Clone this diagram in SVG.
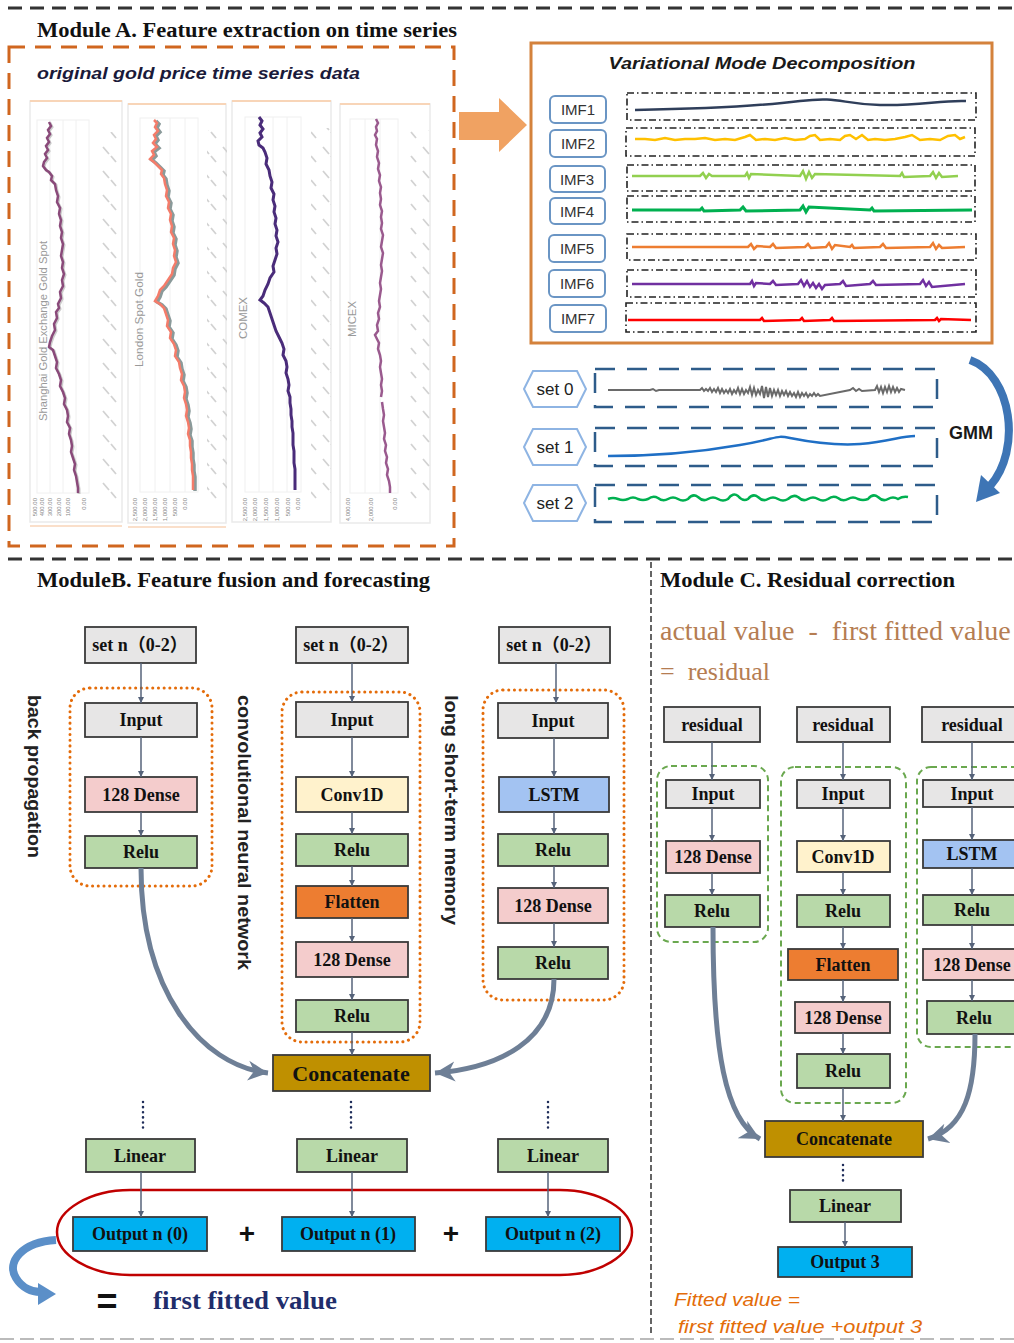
<svg xmlns="http://www.w3.org/2000/svg" width="1014" height="1343" viewBox="0 0 1014 1343">
<style>
.box{stroke:#3a3a3a;stroke-width:1.8}
.gray{fill:#E7E6E6}.pink{fill:#F4CCCC}.green{fill:#B8D9A9}.yellow{fill:#FFF2CC}.orange{fill:#ED7D31}.blue{fill:#A3C3F2}.gold{fill:#BF9000}.cyan{fill:#00B0F0}
.lbl{font-family:"Liberation Serif","Noto Sans CJK SC",serif;font-weight:bold;font-size:18px;text-anchor:middle;fill:#111}
.clbl{font-family:"Liberation Serif","Noto Sans CJK SC",serif;font-weight:bold;font-size:18px;text-anchor:middle;fill:#111}
.title{font-family:"Liberation Serif",serif;font-weight:bold;font-size:20px;fill:#111}
.conn{stroke:#56637A;stroke-width:1.5;fill:none;marker-end:url(#ah)}
.dotv{stroke:#1F2D5A;stroke-width:2.5;stroke-dasharray:0.1 5;stroke-linecap:round;fill:none}
.big{stroke:#6E7F96;stroke-width:5;fill:none}
.odot{fill:none;stroke:#E46C0A;stroke-width:3;stroke-dasharray:0.1 5.6;stroke-linecap:round}
.gdash{fill:none;stroke:#6AA84F;stroke-width:2;stroke-dasharray:6 4}
.imf{fill:#fff;stroke:#6A95C4;stroke-width:2}
.imft{font-family:"Liberation Sans",sans-serif;font-size:15px;fill:#333;text-anchor:middle}
.dd{fill:none;stroke:#222;stroke-width:1.6;stroke-dasharray:7 3 1.5 3}
.sbox{fill:none;stroke:#2E5C8A;stroke-width:2.5;stroke-dasharray:20 12}
.hex{fill:#fff;stroke:#8EB4E3;stroke-width:2}
.sett{font-family:"Liberation Sans",sans-serif;font-size:17px;fill:#222;text-anchor:middle}
.vt{font-family:"Liberation Sans",sans-serif;font-weight:bold;font-size:19px;fill:#222}
.tick{font-family:"Liberation Sans",sans-serif;font-size:6px;fill:#888;text-anchor:end}
.diag{stroke:#D2D2D2;stroke-width:1.8;fill:none}
.panel{fill:#fff;stroke:#EAEAEA;stroke-width:1.5}
.grid{stroke:#F0F0F0;stroke-width:1}
.axl{font-family:"Liberation Sans",sans-serif;font-size:10px;fill:#999}
</style>
<defs>
<marker id="ah" markerUnits="userSpaceOnUse" markerWidth="7" markerHeight="7" refX="6" refY="3.5" orient="auto"><path d="M0,0.5 L6,3.5 L0,6.5 z" fill="#56637A"/></marker>
<marker id="bh" markerUnits="userSpaceOnUse" markerWidth="22" markerHeight="22" refX="20" refY="11" orient="auto"><path d="M0,1 L20,11 L0,21 L6,11 z" fill="#6E7F96"/></marker>
<pattern id="diagp" width="20" height="24" patternUnits="userSpaceOnUse"><path d="M3,3 L9,10 M11,12 L16,18" class="diag"/></pattern>
</defs>

<!-- section separators -->
<g id="separators">
<line x1="8" y1="8" x2="1014" y2="8" stroke="#333" stroke-width="3" stroke-dasharray="14 8"/>
<line x1="8" y1="559" x2="1014" y2="559" stroke="#333" stroke-width="3" stroke-dasharray="14 8"/>
<line x1="651" y1="562" x2="651" y2="1336" stroke="#333" stroke-width="1.5" stroke-dasharray="6 3"/>
<line x1="0" y1="1339" x2="1014" y2="1339" stroke="#BBB" stroke-width="2" stroke-dasharray="14 6"/>
</g>

<!-- Module A -->
<g id="moduleA">
<text class="title" x="37" y="37" textLength="420" lengthAdjust="spacingAndGlyphs">Module A. Feature extraction on time series</text>
<rect x="9" y="47" width="445" height="499" fill="none" stroke="#D0661F" stroke-width="3" stroke-dasharray="16 10"/>
<text x="37" y="79" font-family="Liberation Sans,sans-serif" font-weight="bold" font-style="italic" font-size="17" fill="#1a1a3a" textLength="323" lengthAdjust="spacingAndGlyphs">original gold price time series data</text>

<g id="charts">
<!-- panel 1 -->
<rect class="panel" x="30" y="101" width="92" height="421"/>
<line x1="30" y1="101" x2="122" y2="101" stroke="#F8D5B8" stroke-width="2"/>
<line x1="30" y1="526" x2="122" y2="526" stroke="#F8D5B8" stroke-width="1.5"/>
<rect x="37" y="120" width="52" height="373" fill="none" stroke="#F0F0F0"/>
<line class="grid" x1="50" y1="120" x2="50" y2="493"/><line class="grid" x1="63" y1="120" x2="63" y2="493"/><line class="grid" x1="76" y1="120" x2="76" y2="493"/>
<rect x="98" y="132" width="20" height="370" fill="url(#diagp)"/>
<polyline fill="none" stroke="#999" stroke-width="3" opacity="0.5" points="50,123 52,127 49,131 51,135 48,139 50,143 47,147 49,151 46,155 48,159 45,163 44,167 47,171 50,173 53,177 52,181 56,185 57,191 59,197 58,203 61,209 60,215 62,221 61,227 63,233 62,239 64,245 63,251 62,257 64,263 63,269 65,275 63,281 64,287 61,293 62,299 59,305 60,309 57,313 58,319 55,325 56,331 53,337 51,343 50,348 54,351 56,357 58,363 57,369 60,375 62,381 61,387 64,393 66,399 65,405 68,411 69,417 68,423 71,429 70,435 72,441 73,447 72,453 74,459 76,465 75,471 77,477 78,483 79,489 79,494"/>
<polyline fill="none" stroke="#8A4A7A" stroke-width="2.5" points="49,122 51,126 48,130 50,134 47,138 49,142 46,146 48,150 45,154 47,158 44,162 43,166 46,170 49,172 52,176 51,180 55,184 56,190 58,196 57,202 60,208 59,214 61,220 60,226 62,232 61,238 63,244 62,250 61,256 63,262 62,268 64,274 62,280 63,286 60,292 61,298 58,304 59,308 56,312 57,318 54,324 55,330 52,336 50,342 49,347 53,350 55,356 57,362 56,368 59,374 61,380 60,386 63,392 65,398 64,404 67,410 68,416 67,422 70,428 69,434 71,440 72,446 71,452 73,458 75,464 74,470 76,476 77,482 78,488 78,493"/>
<text class="axl" transform="translate(47,421) rotate(-90)" textLength="180" lengthAdjust="spacingAndGlyphs">Shanghai Gold Exchange Gold Spot</text>
<text class="tick" transform="translate(37,498) rotate(-90)">500.00</text>
<text class="tick" transform="translate(44,498) rotate(-90)">400.00</text>
<text class="tick" transform="translate(52,498) rotate(-90)">300.00</text>
<text class="tick" transform="translate(61,498) rotate(-90)">200.00</text>
<text class="tick" transform="translate(70,498) rotate(-90)">100.00</text>
<text class="tick" transform="translate(86,498) rotate(-90)">0.00</text>

<!-- panel 2 -->
<rect class="panel" x="128" y="104" width="98" height="419"/>
<line x1="128" y1="104" x2="226" y2="104" stroke="#F8D5B8" stroke-width="2"/>
<line x1="128" y1="527" x2="226" y2="527" stroke="#F8D5B8" stroke-width="1.5"/>
<rect x="140" y="118" width="58" height="374" fill="none" stroke="#F0F0F0"/>
<line class="grid" x1="155" y1="118" x2="155" y2="492"/><line class="grid" x1="170" y1="118" x2="170" y2="492"/><line class="grid" x1="185" y1="118" x2="185" y2="492"/>
<rect x="207" y="130" width="20" height="370" fill="url(#diagp)"/>
<polyline fill="none" stroke="#8A9A9A" stroke-width="3.5" points="156,121 159,124 157,128 160,132 156,136 158,140 155,144 159,148 154,152 156,156 152,160 156,163 160,167 164,171 163,175 166,179 167,185 169,191 168,197 171,203 170,209 173,215 172,221 174,227 173,233 176,239 175,245 177,251 176,257 178,263 175,269 174,275 170,281 166,287 162,291 160,297 157,302 162,305 166,309 168,315 170,321 169,327 173,333 172,339 176,345 178,351 177,357 181,363 182,369 184,375 183,381 186,387 187,393 186,399 188,405 189,411 188,417 190,423 191,429 190,435 192,441 192,447 193,453 193,459 194,465 194,471 195,477 195,483 195,491"/>
<polyline fill="none" stroke="#F47C6A" stroke-width="2.5" points="154,120 157,123 155,127 158,131 154,135 156,139 153,143 157,147 152,151 154,155 150,159 154,162 158,166 162,170 161,174 164,178 165,184 167,190 166,196 169,202 168,208 171,214 170,220 172,226 171,232 174,238 173,244 175,250 174,256 176,262 173,268 172,274 168,280 164,286 160,290 158,296 155,301 160,304 164,308 166,314 168,320 167,326 171,332 170,338 174,344 176,350 175,356 179,362 180,368 182,374 181,380 184,386 185,392 184,398 186,404 187,410 186,416 188,422 189,428 188,434 190,440 190,446 191,452 191,458 192,464 192,470 193,476 193,482 193,490"/>
<text class="axl" transform="translate(143,367) rotate(-90)" textLength="95" lengthAdjust="spacingAndGlyphs">London Spot Gold</text>
<text class="tick" transform="translate(137,498) rotate(-90)">2,500.00</text>
<text class="tick" transform="translate(147,498) rotate(-90)">2,000.00</text>
<text class="tick" transform="translate(157,498) rotate(-90)">1,500.00</text>
<text class="tick" transform="translate(167,498) rotate(-90)">1,000.00</text>
<text class="tick" transform="translate(177,498) rotate(-90)">500.00</text>
<text class="tick" transform="translate(187,498) rotate(-90)">0.00</text>

<!-- panel 3 -->
<rect class="panel" x="232" y="101" width="99" height="421"/>
<line x1="232" y1="101" x2="331" y2="101" stroke="#F8D5B8" stroke-width="2"/>
<rect x="245" y="117" width="56" height="375" fill="none" stroke="#F0F0F0"/>
<line class="grid" x1="259" y1="117" x2="259" y2="492"/><line class="grid" x1="273" y1="117" x2="273" y2="492"/><line class="grid" x1="287" y1="117" x2="287" y2="492"/>
<rect x="311" y="128" width="20" height="372" fill="url(#diagp)"/>
<polyline fill="none" stroke="#4A2C7A" stroke-width="3" points="259,117 262,121 260,125 263,129 260,133 262,137 258,141 259,145 263,148 265,152 267,158 266,164 269,170 270,176 272,182 271,188 274,194 273,200 275,206 274,212 276,218 275,224 277,230 276,236 278,242 276,248 277,254 275,260 273,266 274,272 270,278 268,284 265,290 263,296 260,300 264,303 268,307 270,313 272,319 274,325 276,331 279,337 282,343 284,349 283,355 286,361 287,367 286,373 288,379 289,385 288,391 290,397 290,403 291,409 291,415 292,421 292,427 293,433 293,439 293,445 294,451 294,457 294,463 295,469 295,475 295,481 295,490"/>
<text class="axl" transform="translate(247,339) rotate(-90)" textLength="42" lengthAdjust="spacingAndGlyphs">COMEX</text>
<text class="tick" transform="translate(247,498) rotate(-90)">2,500.00</text>
<text class="tick" transform="translate(257,498) rotate(-90)">2,000.00</text>
<text class="tick" transform="translate(268,498) rotate(-90)">1,500.00</text>
<text class="tick" transform="translate(279,498) rotate(-90)">1,000.00</text>
<text class="tick" transform="translate(290,498) rotate(-90)">500.00</text>
<text class="tick" transform="translate(300,498) rotate(-90)">0.00</text>

<!-- panel 4 -->
<rect class="panel" x="340" y="104" width="90" height="419"/>
<line x1="340" y1="104" x2="430" y2="104" stroke="#F8D5B8" stroke-width="2"/>
<rect x="350" y="119" width="48" height="374" fill="none" stroke="#F0F0F0"/>
<line class="grid" x1="365" y1="119" x2="365" y2="493"/><line class="grid" x1="380" y1="119" x2="380" y2="493"/>
<rect x="410" y="130" width="20" height="372" fill="url(#diagp)"/>
<polyline fill="none" stroke="#9A5A8E" stroke-width="2.5" points="376,119 378,123 376,127 377,131 375,135 377,139 376,145 378,151 377,157 379,163 378,169 380,175 379,181 381,187 380,193 381,199 380,205 382,211 381,217 382,223 381,229 383,235 382,241 381,247 383,253 382,259 381,265 382,271 381,277 380,283 381,289 380,295 379,301 380,307 378,313 379,319 377,325 378,331 375,335 377,339 379,343 378,349 380,355 381,361 380,367 381,373 382,379 381,385 382,391 381,397"/>
<polyline fill="none" stroke="#9A5A8E" stroke-width="2.5" points="382,402 383,409 384,415 383,421 384,427 385,433 384,439 386,445 385,451 387,457 386,463 388,469 387,475 389,481 390,487 390,493"/>
<text class="axl" transform="translate(356,337) rotate(-90)" textLength="36" lengthAdjust="spacingAndGlyphs">MICEX</text>
<text class="tick" transform="translate(350,498) rotate(-90)">4,000.00</text>
<text class="tick" transform="translate(373,498) rotate(-90)">2,000.00</text>
<text class="tick" transform="translate(397,498) rotate(-90)">0.00</text>
</g>

<!-- big orange arrow -->
<polygon points="459,112 499,112 499,98 527,125 499,152 499,140 459,140" fill="#F0A262"/>

<!-- VMD -->
<g id="vmd">
<rect x="531" y="43" width="461" height="300" fill="#fff" stroke="#D4823C" stroke-width="3"/>
<text x="762" y="69" text-anchor="middle" font-family="Liberation Sans,sans-serif" font-weight="bold" font-style="italic" font-size="17" fill="#1a1a1a" textLength="307" lengthAdjust="spacingAndGlyphs">Variational Mode Decomposition</text>
<g id="imf1"><rect class="imf" x="550" y="96" width="56" height="27" rx="5"/><text class="imft" x="578" y="115">IMF1</text></g>
<g id="imf2"><rect class="imf" x="550" y="130" width="56" height="27" rx="5"/><text class="imft" x="578" y="149">IMF2</text></g>
<g id="imf3"><rect class="imf" x="550" y="166" width="55" height="26" rx="5"/><text class="imft" x="577" y="185">IMF3</text></g>
<g id="imf4"><rect class="imf" x="550" y="198" width="55" height="26" rx="5"/><text class="imft" x="577" y="217">IMF4</text></g>
<g id="imf5"><rect class="imf" x="549" y="235" width="56" height="27" rx="5"/><text class="imft" x="577" y="254">IMF5</text></g>
<g id="imf6"><rect class="imf" x="549" y="270" width="56" height="27" rx="5"/><text class="imft" x="577" y="289">IMF6</text></g>
<g id="imf7"><rect class="imf" x="550" y="305" width="56" height="27" rx="5"/><text class="imft" x="578" y="324">IMF7</text></g>
<rect class="dd" x="627" y="93" width="349" height="27"/>
<rect class="dd" x="626" y="128" width="349" height="28"/>
<rect class="dd" x="627" y="165" width="348" height="26"/>
<rect class="dd" x="627" y="196" width="348" height="26"/>
<rect class="dd" x="627" y="234" width="349" height="26"/>
<rect class="dd" x="627" y="270" width="349" height="27"/>
<rect class="dd" x="626" y="303" width="350" height="29"/>
<path d="M635 110 C700 109,760 106,800 101 S840 104,880 105 S940 100,966 101" fill="none" stroke="#2F3E5A" stroke-width="2.5"/>
<polyline fill="none" stroke="#FFC000" stroke-width="2.5" points="635,139 645,139 655,140 665,138 675,140 685,139 695,139 705,138 715,140 725,139 735,140 745,137 750,135 756,140 765,139 775,140 785,138 795,140 805,139 810,136 815,135 820,140 830,139 840,140 845,136 850,135 856,139 862,135 868,140 875,139 885,140 895,139 905,137 912,135 920,140 930,139 940,140 948,136 955,135 960,139 965,137"/>
<path d="M632 176 L700 176 l3 -3 l3 5 l3 -4 l3 2 L745 176 l2 -3 l2 5 l2 -4 L800 176 l3 -5 l3 8 l3 -7 l3 6 l3 -4 L900 176 l2 -3 l2 4 L930 176 l3 -4 l3 6 l3 -5 l3 4 L958 176" fill="none" stroke="#92D050" stroke-width="2.5"/>
<path d="M632 210 L700 210 l2 -2 l2 3 L740 210 l3 -3 l3 4 L800 210 l3 -4 l3 6 l3 -5 L870 210 l2 -2 l2 3 L972 210" fill="none" stroke="#00B050" stroke-width="3"/>
<path d="M632 247 L748 247 l3 -3 l3 5 l3 -3 L770 247 l3 -3 l3 4 L805 247 l3 -3 l3 4 L826 247 l3 -4 l3 6 l3 -4 L850 247 l2 -2 l2 3 L880 247 l3 -3 l3 4 L930 247 l3 -4 l3 6 l3 -4 l3 3 L965 247" fill="none" stroke="#ED7D31" stroke-width="2.5"/>
<path d="M632 284 L750 284 l2 -3 l2 5 l2 -3 L770 284 l3 -3 l3 4 L798 284 l3 -4 l3 6 l3 -5 l3 6 l3 -4 l3 5 l3 -4 l3 5 l3 -4 L840 284 l3 -3 l3 5 L870 284 l3 -3 l3 4 L920 284 l3 -4 l3 6 l3 -4 l3 5 L965 284" fill="none" stroke="#7030A0" stroke-width="2.5"/>
<path d="M628 320 L760 320 l2 -2 l2 3 L800 320 l2 -2 l2 3 L830 320 l2 -2 l2 3 L935 320 l2 -2 l2 3 l2 -2 L971 320" fill="none" stroke="#FF0000" stroke-width="2.5"/>
</g>

<!-- sets -->
<g id="set0"><polygon class="hex" points="524,389 533,371 577,371 586,389 577,407 533,407"/><text class="sett" x="555" y="395">set 0</text></g>
<g id="set1"><polygon class="hex" points="524,447 533,429 577,429 586,447 577,465 533,465"/><text class="sett" x="555" y="453">set 1</text></g>
<g id="set2"><polygon class="hex" points="524,503 533,485 577,485 586,503 577,521 533,521"/><text class="sett" x="555" y="509">set 2</text></g>
<rect class="sbox" x="595" y="369" width="342" height="38"/>
<rect class="sbox" x="595" y="428" width="342" height="38"/>
<rect class="sbox" x="595" y="485" width="342" height="37"/>
<path d="M608 390 L650 390 l3 -1 l3 2 l3 -1 L700 390 l2 -2 l2 3 l2 -2 l2 2 l2 -3 l2 4 l2 -3 l2 3 l2 -4 l2 5 l2 -4 l2 4 l2 -3 l2 3 l2 -4 l2 5 l2 -4 l2 3 l2 -5 l2 6 l2 -5 l2 5 l2 -4 l2 3 l2 -6 l2 8 l2 -7 l2 7 l2 -5 l2 4 l2 -8 l2 12 l2 -11 l2 10 l2 -9 l2 8 l2 -6 l2 5 l2 -5 l2 6 l2 -5 l2 4 l2 -4 l2 5 l2 -4 l2 4 l2 -3 l2 4 l2 -5 l2 5 l2 -4 l2 3 l2 -3 l2 4 l2 -3 l2 2 l2 -3 l2 3 l2 -2 l2 2 L850 390 l3 -2 l3 3 l3 -2 l3 2 L875 390 l2 -4 l2 6 l2 -5 l2 6 l2 -6 l2 5 l2 -6 l2 6 l2 -5 l2 5 l2 -4 l2 4 l2 -3 L905 390" fill="none" stroke="#6A6A6A" stroke-width="2"/>
<path d="M608 456 C650 456,700 452,740 445 S775 435,790 438 S830 446,860 444 S900 436,915 436" fill="none" stroke="#1F6FC5" stroke-width="2.5"/>
<path d="M608 499 q5 -2 10 0 q5 2 10 0 q5 -3 10 0 q5 2 10 0 q5 -4 10 -1 q5 4 10 1 q5 -3 10 0 q5 3 10 0 q5 -6 10 -2 q5 5 10 2 q5 -3 10 0 q5 3 10 0 q5 -7 10 -3 q5 6 10 3 q5 -6 10 -2 q5 5 10 2 q5 -3 10 0 q5 3 10 0 q5 -5 10 -2 q5 5 10 2 q5 -3 10 0 q5 3 10 0 q5 -4 10 -1 q5 4 10 1 q5 -3 10 0 q5 2 10 0 q5 -6 10 -2 q5 5 10 2 q5 -3 10 0 q5 -3 10 -2" fill="none" stroke="#00B050" stroke-width="2.5"/>
<g id="gmm">
<path d="M970 360 C1012 375,1022 450,990 486" fill="none" stroke="#3E75B5" stroke-width="8"/>
<polygon points="976,502 981,475 1000,493" fill="#3E75B5"/>
<text x="949" y="439" font-family="Liberation Sans,sans-serif" font-weight="bold" font-size="18" fill="#1a1a1a">GMM</text>
</g>
</g>

<!-- Module B -->
<g id="moduleB">
<text class="title" x="37" y="587" textLength="393" lengthAdjust="spacingAndGlyphs">ModuleB. Feature fusion and forecasting</text>
<rect class="odot" x="70" y="688" width="142" height="198" rx="20"/>
<rect class="odot" x="282" y="692" width="138" height="350" rx="20"/>
<rect class="odot" x="483" y="690" width="141" height="310" rx="20"/>
<text class="vt" transform="translate(28,695) rotate(90)" textLength="163" lengthAdjust="spacingAndGlyphs">back propagation</text>
<text class="vt" transform="translate(238,695) rotate(90)" textLength="275" lengthAdjust="spacingAndGlyphs">convolutional neural network</text>
<text class="vt" transform="translate(445,695) rotate(90)" textLength="230" lengthAdjust="spacingAndGlyphs">long short-term memory</text>

<g id="b1_set"><rect class="box gray" x="85" y="627" width="111" height="36"/><text class="lbl" x="140" y="651">set n（0-2）</text></g>
<g id="b1_input"><rect class="box gray" x="85" y="703" width="112" height="34"/><text class="lbl" x="141" y="726">Input</text></g>
<g id="b1_dense"><rect class="box pink" x="85" y="777" width="112" height="35"/><text class="lbl" x="141" y="801">128 Dense</text></g>
<g id="b1_relu"><rect class="box green" x="85" y="836" width="112" height="32"/><text class="lbl" x="141" y="858">Relu</text></g>

<g id="b2_set"><rect class="box gray" x="296" y="627" width="112" height="36"/><text class="lbl" x="351" y="651">set n（0-2）</text></g>
<g id="b2_input"><rect class="box gray" x="296" y="702" width="112" height="35"/><text class="lbl" x="352" y="726">Input</text></g>
<g id="b2_conv"><rect class="box yellow" x="296" y="777" width="112" height="35"/><text class="lbl" x="352" y="801">Conv1D</text></g>
<g id="b2_relu1"><rect class="box green" x="296" y="834" width="112" height="32"/><text class="lbl" x="352" y="856">Relu</text></g>
<g id="b2_flatten"><rect class="box orange" x="296" y="886" width="112" height="32"/><text class="lbl" x="352" y="908">Flatten</text></g>
<g id="b2_dense"><rect class="box pink" x="296" y="942" width="112" height="35"/><text class="lbl" x="352" y="966">128 Dense</text></g>
<g id="b2_relu2"><rect class="box green" x="296" y="1000" width="112" height="32"/><text class="lbl" x="352" y="1022">Relu</text></g>

<g id="b3_set"><rect class="box gray" x="499" y="627" width="111" height="36"/><text class="lbl" x="554" y="651">set n（0-2）</text></g>
<g id="b3_input"><rect class="box gray" x="498" y="703" width="110" height="35"/><text class="lbl" x="553" y="727">Input</text></g>
<g id="b3_lstm"><rect class="box blue" x="499" y="777" width="110" height="35"/><text class="lbl" x="554" y="801">LSTM</text></g>
<g id="b3_relu1"><rect class="box green" x="498" y="834" width="110" height="32"/><text class="lbl" x="553" y="856">Relu</text></g>
<g id="b3_dense"><rect class="box pink" x="498" y="888" width="110" height="35"/><text class="lbl" x="553" y="912">128 Dense</text></g>
<g id="b3_relu2"><rect class="box green" x="498" y="947" width="110" height="32"/><text class="lbl" x="553" y="969">Relu</text></g>

<g id="b_concat"><rect class="box gold" x="273" y="1055" width="157" height="36"/><text class="lbl" x="351" y="1081" style="font-size:22px">Concatenate</text></g>
<g id="b_lin1"><rect class="box green" x="86" y="1139" width="109" height="33"/><text class="lbl" x="140" y="1162">Linear</text></g>
<g id="b_lin2"><rect class="box green" x="297" y="1139" width="110" height="33"/><text class="lbl" x="352" y="1162">Linear</text></g>
<g id="b_lin3"><rect class="box green" x="498" y="1139" width="110" height="33"/><text class="lbl" x="553" y="1162">Linear</text></g>
<path d="M130 1190 L560 1190 C600 1190,632 1210,632 1232 C632 1255,600 1275,560 1275 L130 1275 C90 1275,57 1255,57 1232 C57 1210,90 1190,130 1190 Z" fill="none" stroke="#C00000" stroke-width="2.5"/>
<g id="b_out0"><rect class="box cyan" x="73" y="1217" width="134" height="34"/><text class="clbl" x="140" y="1240">Output n (0)</text></g>
<g id="b_out1"><rect class="box cyan" x="282" y="1217" width="133" height="34"/><text class="clbl" x="348" y="1240">Output n (1)</text></g>
<g id="b_out2"><rect class="box cyan" x="486" y="1217" width="134" height="34"/><text class="clbl" x="553" y="1240">Output n (2)</text></g>
<text x="247" y="1243" text-anchor="middle" font-family="Liberation Sans,sans-serif" font-weight="bold" font-size="28" fill="#111">+</text>
<text x="451" y="1243" text-anchor="middle" font-family="Liberation Sans,sans-serif" font-weight="bold" font-size="28" fill="#111">+</text>
<path d="M56 1240 C22 1242,6 1262,16 1278 C22 1288,32 1292,40 1292" fill="none" stroke="#5B8FC8" stroke-width="8"/>
<polygon points="56,1294 38,1283 38,1305" fill="#5B8FC8"/>
<text x="107" y="1314" text-anchor="middle" font-family="Liberation Sans,sans-serif" font-weight="bold" font-size="36" fill="#111">=</text>
<text x="153" y="1309" font-family="Liberation Serif,serif" font-weight="bold" font-size="25" fill="#1F2D6B" textLength="184" lengthAdjust="spacingAndGlyphs">first fitted value</text>
</g>

<!-- Module C -->
<g id="moduleC">
<text class="title" x="660" y="587" textLength="295" lengthAdjust="spacingAndGlyphs">Module C. Residual correction</text>
<text x="660" y="640" font-family="Liberation Serif,serif" font-size="28" fill="#B57D52" xml:space="preserve">actual value  -  first fitted value</text>
<text x="660" y="680" font-family="Liberation Serif,serif" font-size="26" fill="#B57D52" xml:space="preserve">=  residual</text>
<rect class="gdash" x="657" y="766" width="111" height="176" rx="14"/>
<rect class="gdash" x="781" y="767" width="125" height="336" rx="14"/>
<rect class="gdash" x="917" y="767" width="110" height="280" rx="14"/>

<g id="c1_res"><rect class="box gray" x="664" y="707" width="96" height="35"/><text class="clbl" x="712" y="731">residual</text></g>
<g id="c1_input"><rect class="box gray" x="666" y="780" width="94" height="28"/><text class="clbl" x="713" y="800">Input</text></g>
<g id="c1_dense"><rect class="box pink" x="666" y="841" width="94" height="32"/><text class="clbl" x="713" y="863">128 Dense</text></g>
<g id="c1_relu"><rect class="box green" x="665" y="895" width="95" height="32"/><text class="clbl" x="712" y="917">Relu</text></g>

<g id="c2_res"><rect class="box gray" x="797" y="707" width="93" height="35"/><text class="clbl" x="843" y="731">residual</text></g>
<g id="c2_input"><rect class="box gray" x="797" y="780" width="93" height="28"/><text class="clbl" x="843" y="800">Input</text></g>
<g id="c2_conv"><rect class="box yellow" x="797" y="841" width="93" height="31"/><text class="clbl" x="843" y="863">Conv1D</text></g>
<g id="c2_relu1"><rect class="box green" x="797" y="895" width="93" height="32"/><text class="clbl" x="843" y="917">Relu</text></g>
<g id="c2_flatten"><rect class="box orange" x="788" y="949" width="110" height="31"/><text class="clbl" x="843" y="971">Flatten</text></g>
<g id="c2_dense"><rect class="box pink" x="795" y="1002" width="95" height="31"/><text class="clbl" x="843" y="1024">128 Dense</text></g>
<g id="c2_relu2"><rect class="box green" x="797" y="1054" width="93" height="34"/><text class="clbl" x="843" y="1077">Relu</text></g>

<g id="c3_res"><rect class="box gray" x="922" y="707" width="100" height="35"/><text class="clbl" x="972" y="731">residual</text></g>
<g id="c3_input"><rect class="box gray" x="923" y="780" width="100" height="27"/><text class="clbl" x="972" y="800">Input</text></g>
<g id="c3_lstm"><rect class="box blue" x="923" y="840" width="100" height="28"/><text class="clbl" x="972" y="860">LSTM</text></g>
<g id="c3_relu1"><rect class="box green" x="923" y="895" width="100" height="30"/><text class="clbl" x="972" y="916">Relu</text></g>
<g id="c3_dense"><rect class="box pink" x="923" y="949" width="100" height="31"/><text class="clbl" x="972" y="971">128 Dense</text></g>
<g id="c3_relu2"><rect class="box green" x="927" y="1001" width="96" height="33"/><text class="clbl" x="974" y="1024">Relu</text></g>

<g id="c_concat"><rect class="box gold" x="765" y="1121" width="158" height="36"/><text class="clbl" x="844" y="1145">Concatenate</text></g>
<g id="c_linear"><rect class="box green" x="790" y="1190" width="111" height="32"/><text class="clbl" x="845" y="1212">Linear</text></g>
<g id="c_out"><rect class="box cyan" x="778" y="1247" width="134" height="30"/><text class="clbl" x="845" y="1268">Output 3</text></g>
<text x="674" y="1306" font-family="Liberation Sans,sans-serif" font-style="italic" font-size="19" fill="#E36C09" textLength="126" lengthAdjust="spacingAndGlyphs">Fitted value =</text>
<text x="678" y="1333" font-family="Liberation Sans,sans-serif" font-style="italic" font-size="19" fill="#E36C09" textLength="244" lengthAdjust="spacingAndGlyphs">first fitted value +output 3</text>
</g>

<!-- connectors -->
<g id="connectors">
<line class="conn" x1="141" y1="663" x2="141" y2="703"/>
<line class="conn" x1="141" y1="737" x2="141" y2="777"/>
<line class="conn" x1="141" y1="812" x2="141" y2="836"/>
<line class="conn" x1="352" y1="663" x2="352" y2="702"/>
<line class="conn" x1="352" y1="737" x2="352" y2="777"/>
<line class="conn" x1="352" y1="812" x2="352" y2="834"/>
<line class="conn" x1="352" y1="866" x2="352" y2="886"/>
<line class="conn" x1="352" y1="918" x2="352" y2="942"/>
<line class="conn" x1="352" y1="977" x2="352" y2="1000"/>
<line class="conn" x1="352" y1="1032" x2="352" y2="1055"/>
<line class="conn" x1="556" y1="663" x2="556" y2="703"/>
<line class="conn" x1="554" y1="738" x2="554" y2="777"/>
<line class="conn" x1="554" y1="812" x2="554" y2="834"/>
<line class="conn" x1="554" y1="866" x2="554" y2="888"/>
<line class="conn" x1="554" y1="923" x2="554" y2="947"/>
<path class="big" d="M141 868 C141 990,200 1065,268 1073" marker-end="url(#bh)"/>
<path class="big" d="M554 979 C554 1040,500 1068,435 1073" marker-end="url(#bh)"/>
<line class="dotv" x1="143" y1="1102" x2="143" y2="1132"/>
<line class="dotv" x1="351" y1="1102" x2="351" y2="1132"/>
<line class="dotv" x1="548" y1="1102" x2="548" y2="1132"/>
<line class="conn" x1="141" y1="1172" x2="141" y2="1217"/>
<line class="conn" x1="352" y1="1172" x2="352" y2="1217"/>
<line class="conn" x1="548" y1="1172" x2="548" y2="1217"/>

<line class="conn" x1="712" y1="742" x2="712" y2="780"/>
<line class="conn" x1="712" y1="808" x2="712" y2="841"/>
<line class="conn" x1="712" y1="873" x2="712" y2="895"/>
<line class="conn" x1="843" y1="742" x2="843" y2="780"/>
<line class="conn" x1="843" y1="808" x2="843" y2="841"/>
<line class="conn" x1="843" y1="872" x2="843" y2="895"/>
<line class="conn" x1="843" y1="927" x2="843" y2="949"/>
<line class="conn" x1="843" y1="980" x2="843" y2="1002"/>
<line class="conn" x1="843" y1="1033" x2="843" y2="1054"/>
<line class="conn" x1="843" y1="1088" x2="843" y2="1121"/>
<line class="conn" x1="972" y1="742" x2="972" y2="780"/>
<line class="conn" x1="972" y1="807" x2="972" y2="840"/>
<line class="conn" x1="972" y1="868" x2="972" y2="895"/>
<line class="conn" x1="972" y1="925" x2="972" y2="949"/>
<line class="conn" x1="972" y1="980" x2="972" y2="1001"/>
<path class="big" d="M713 927 C713 1050,725 1120,760 1139" marker-end="url(#bh)"/>
<path class="big" d="M975 1034 C975 1090,965 1128,928 1139" marker-end="url(#bh)"/>
<line class="dotv" x1="843" y1="1165" x2="843" y2="1183"/>
<line class="conn" x1="845" y1="1222" x2="845" y2="1247"/>
</g>
</svg>
